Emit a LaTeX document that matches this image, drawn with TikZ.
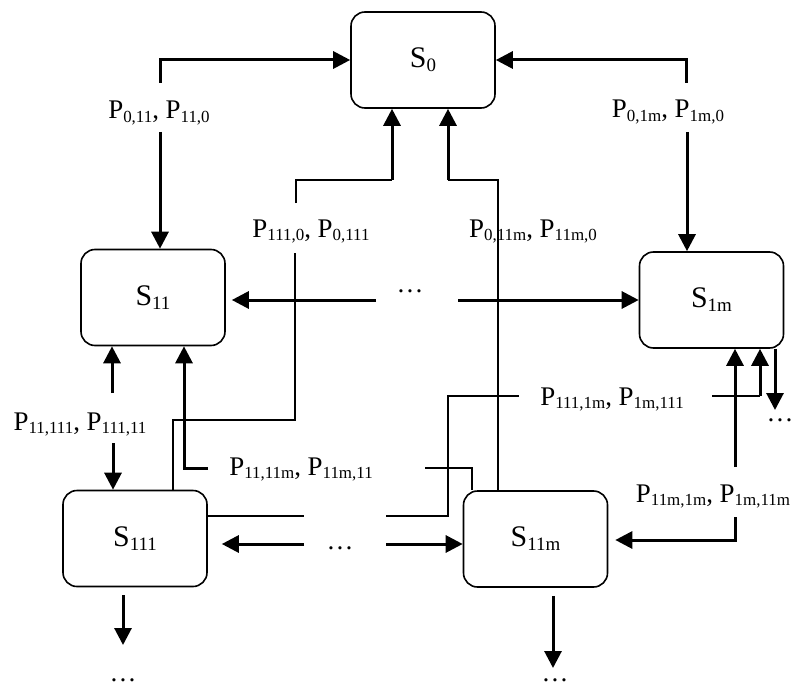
\documentclass[tikz,border=0pt]{standalone}
\usepackage{fontspec}
\setmainfont{Liberation Serif}
\usetikzlibrary{arrows.meta,calc}
\newcommand\lsub[1]{\raisebox{-3.5bp}{\fontsize{17}{17}\selectfont #1}}
\newcommand\bsub[1]{\raisebox{-4bp}{\fontsize{19}{19}\selectfont #1}}
\begin{document}
\begin{tikzpicture}[x=1bp,y=-1bp,
 state/.style={draw, line width=1.6bp, rounded corners=14bp, minimum width=144bp, minimum height=96bp, inner sep=0pt, font=\fontsize{30}{30}\selectfont},
 lbl/.style={anchor=base, inner sep=0pt, font=\fontsize{27}{27}\selectfont},
 dots/.style={anchor=base, inner sep=0pt, font=\fontsize{27}{27}\selectfont},
 tarrow/.style={line width=3bp, -{Triangle[length=17bp,width=17bp]}},
 thinline/.style={line width=1.4bp}
]
\useasboundingbox (0,0) rectangle (792,688);

% states
\node[state] (s0) at (423,60) {S\bsub{0}};
\node[state] (s11) at (153,297.5) {S\bsub{11}};
\node[state] (s1m) at (711.5,300) {S\bsub{1m}};
\node[state] (s111) at (135,538.5) {S\bsub{111}};
\node[state] (s11m) at (535.5,539) {S\bsub{11m}};

% labels
\node[lbl] (l1) at (159,119) {P\lsub{0,11}, P\lsub{11,0}};
\node[lbl] (l2) at (668,118) {P\lsub{0,1m}, P\lsub{1m,0}};
\node[lbl] (l3) at (311,237) {P\lsub{111,0}, P\lsub{0,111}};
\node[lbl] (l4) at (533,237) {P\lsub{0,11m}, P\lsub{11m,0}};
\node[lbl] (l5) at (80,430) {P\lsub{11,111}, P\lsub{111,11}};
\node[lbl] (l6) at (301,475) {P\lsub{11,11m}, P\lsub{11m,11}};
\node[lbl] (l7) at (612,405) {P\lsub{111,1m}, P\lsub{1m,111}};
\node[lbl] (l8) at (713,502) {P\lsub{11m,1m}, P\lsub{1m,11m}};

% dots
\node[dots] (d1) at (410,292) {…};
\node[dots] (d2) at (340,549) {…};
\node[dots] (d3) at (780,421) {…};
\node[dots] (d4) at (123,681) {…};
\node[dots] (d5) at (555,681) {…};

% S11 -- S0
\coordinate (c1a) at (160,83);
\coordinate (c1b) at (160,132);
\draw[tarrow] (c1a) |- (s0.west);
\draw[tarrow] (c1b) -- (c1b |- s11.north);

% S1m -- S0
\coordinate (c2a) at (686,83);
\coordinate (c2b) at (687,132);
\draw[tarrow] (c2a) |- (s0.east);
\draw[tarrow] (c2b) -- (c2b |- s1m.north);

% S111 -- S0
\coordinate (p3a) at (173,420);
\coordinate (p3b) at (295,420);
\coordinate (p3c) at (295,253);
\coordinate (p3d) at (296,203);
\coordinate (p3e) at (392,180);
\draw[thinline] (p3a |- s111.north) -- (p3a) -- (p3b) -- (p3c);
\draw[thinline] (p3d) |- (p3e);
\draw[tarrow] (p3e) -- (p3e |- s0.south);

% S11m -- S0
\coordinate (p4a) at (498,180);
\coordinate (p4b) at (448,180);
\draw[thinline] (p4a |- s11m.north) -- (p4a) -- (p4b);
\draw[tarrow] (p4b) -- (p4b |- s0.south);

% S11 ... S1m
\coordinate (p5a) at (376,300);
\coordinate (p5c) at (458,300);
\draw[tarrow, shorten >=6bp] (p5a) -- (p5a -| s11.east);
\draw[tarrow] (p5c) -- (p5c -| s1m.west);

% S11 -- S111
\coordinate (p6a) at (112,393);
\coordinate (p6b) at (113,443);
\draw[tarrow] (p6a) -- (p6a |- s11.south);
\draw[tarrow] (p6b) -- (p6b |- s111.north);

% S11 -- S11m
\coordinate (p7a) at (208,468);
\coordinate (p7b) at (184,468);
\coordinate (p7c) at (425,468);
\coordinate (p7d) at (472,468);
\draw[tarrow] (p7a) -- (p7b) -- (p7b |- s11.south);
\draw[thinline] (p7c) -- (p7d) -- (p7d |- s11m.north);

% S111 -- S1m
\coordinate (p8a) at (304,516);
\coordinate (p8b) at (386,516);
\coordinate (p8c) at (448,516);
\coordinate (p8d) at (448,396);
\coordinate (p8e) at (519,396);
\coordinate (p8f) at (712,396);
\coordinate (p8g) at (760,396);
\draw[thinline] (p8a -| s111.east) -- (p8a);
\draw[thinline] (p8b) -- (p8c) -- (p8d) -- (p8e);
\draw[thinline] (p8f) -- (p8g);
\draw[tarrow] (p8g) -- (p8g |- s1m.south);

% S1m down
\coordinate (p9b) at (775,410);
\draw[tarrow] (p9b |- s1m.south) -- (p9b);

% S11m -- S1m
\coordinate (p10a) at (735,467);
\coordinate (p10b) at (735,517);
\coordinate (p10c) at (735,540);
\draw[tarrow] (p10a) -- (p10a |- s1m.south);
\draw[tarrow, shorten >=7bp] (p10b) -- (p10c) -- (p10c -| s11m.east);

% S111 ... S11m
\coordinate (p11a) at (304,544);
\coordinate (p11b) at (386,544);
\draw[tarrow, shorten >=14bp] (p11a) -- (p11a -| s111.east);
\draw[tarrow] (p11b) -- (p11b -| s11m.west);

% bottom
\coordinate (p12a) at (123,645);
\coordinate (p12b) at (553,668);
\draw[tarrow, shorten <=8bp] (p12a |- s111.south) -- (p12a);
\draw[tarrow, shorten <=8bp] (p12b |- s11m.south) -- (p12b);
\end{tikzpicture}
\end{document}
